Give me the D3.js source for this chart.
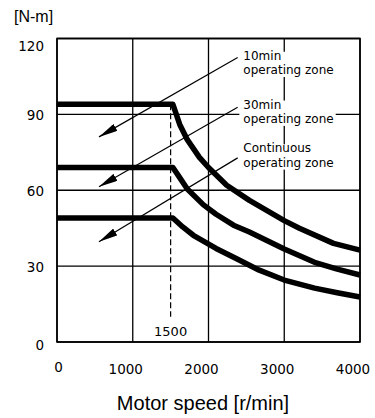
<!DOCTYPE html>
<meta charset='utf-8'>
<style>
  body { margin: 0; background: #fff; }
  svg { display: block; }
</style>
<body>
<script src='https://cdnjs.cloudflare.com/ajax/libs/d3/7.8.5/d3.min.js'></script>
<script>

    // tick values
    var speedTicks = [0, 1000, 2000, 3000, 4000];
    var torqueTicks = [0, 30, 60, 90, 120];

    // torque curves
    var speed10 = [0, 1530, 1620, 1720, 1880, 2000, 2240, 2540, 3000, 3200, 3650, 4000];
    var torque10 = [94, 94, 86, 80, 73, 69, 62, 56, 48, 45, 39, 36.3];

    var speed30 = [0, 1530, 1620, 1720, 1930, 2100, 2330, 2540, 3000, 3400, 3700, 4000];
    var torque30 = [69, 69, 65, 60.5, 54.3, 50.5, 46.2, 43.5, 36.8, 31.5, 28.8, 26.5];

    var speedCont = [0, 1530, 1660, 1800, 2100, 2365, 2670, 3000, 3400, 3700, 4000];
    var torqueCont = [49, 49, 45.5, 42.2, 37, 33, 28.4, 24.5, 21.3, 19.5, 17.8];

    // annotations: label lines, label anchor and arrow (speed, torque)
    var zoneLabels = [['10min', 'operating zone'], ['30min', 'operating zone'], ['Continuous', 'operating zone']];
    var labelSpeed = [2460, 2460, 2460];
    var labelTorque = [111.6, 92.3, 75];
    var arrowFrom = [[2385, 112.5], [2385, 92.8], [2385, 72.8]];
    var arrowTo = [[554, 81.1], [554, 61.4], [554, 39.6]];
    var baseSpeed = 1500;

    var width = 375, height = 418;

    var svg = d3.select('body').append('svg')
        .attr('width', width)
        .attr('height', height);

    var x = d3.scaleLinear().domain([0, 4000]).range([57, 360]);
    var y = d3.scaleLinear().domain([0, 120]).range([342, 38.5]);

    var defs = svg.append('defs');
    defs.append('marker')
        .attr('id', 'head')
        .attr('markerUnits', 'userSpaceOnUse')
        .attr('viewBox', '0 0 19 8')
        .attr('refX', 19)
        .attr('refY', 4)
        .attr('markerWidth', 19)
        .attr('markerHeight', 8)
        .attr('orient', 'auto')
        .append('path')
        .attr('d', 'M0,0 L19,4 L0,8 Z')
        .attr('fill', '#000');

    // grid
    var grid = svg.append('g');
    grid.selectAll('.vg')
        .data(speedTicks)
        .enter()
        .append('line')
        .attr('x1', function(d){ return x(d); })
        .attr('x2', function(d){ return x(d); })
        .attr('y1', y(0))
        .attr('y2', y(120))
        .attr('stroke', '#000')
        .attr('stroke-width', 1.3);

    grid.selectAll('.hg')
        .data(torqueTicks)
        .enter()
        .append('line')
        .attr('x1', x(0))
        .attr('x2', x(4000))
        .attr('y1', function(d){ return y(d); })
        .attr('y2', function(d){ return y(d); })
        .attr('stroke', '#000')
        .attr('stroke-width', 1.3);

    // 1500 dashed marker
    svg.append('line')
        .attr('x1', x(baseSpeed))
        .attr('x2', x(baseSpeed))
        .attr('y1', y(torque10[0]))
        .attr('y2', y(10))
        .attr('stroke', '#000')
        .attr('stroke-width', 1.2)
        .attr('stroke-dasharray', '6,3');

    svg.append('text')
        .attr('x', x(baseSpeed))
        .attr('y', y(2.2))
        .attr('text-anchor', 'middle')
        .style('font-family', 'DejaVu Sans')
        .style('font-size', '13px')
        .text(baseSpeed);

    // arrows
    svg.selectAll('.arrow')
        .data(arrowFrom)
        .enter()
        .append('line')
        .attr('x1', function(d){ return x(d[0]); })
        .attr('y1', function(d){ return y(d[1]); })
        .attr('x2', function(d, i){ return x(arrowTo[i][0]); })
        .attr('y2', function(d, i){ return y(arrowTo[i][1]); })
        .attr('stroke', '#000')
        .attr('stroke-width', 1.2)
        .attr('marker-end', 'url(#head)');

    // zone labels with white background
    zoneLabels.forEach(function(lines, i){
        var g = svg.append('g');
        var bg = g.append('rect').attr('fill', '#fff');
        var t = g.append('text')
            .style('font-family', 'DejaVu Sans')
            .style('font-size', '12px');
        lines.forEach(function(s, j){
            t.append('tspan')
                .attr('x', x(labelSpeed[i]))
                .attr('y', y(labelTorque[i]) + j * 14.3)
                .text(s);
        });
        var b = t.node().getBBox();
        bg.attr('x', b.x - 4).attr('y', b.y + 3)
          .attr('width', b.width + 6).attr('height', b.height - 3);
    });

    // curves
    var line = d3.line()
        .x(function(d){ return x(d[0]); })
        .y(function(d){ return y(d[1]); });

    [[speed10, torque10], [speed30, torque30], [speedCont, torqueCont]].forEach(function(s){
        svg.append('path')
            .datum(d3.zip(s[0], s[1]))
            .attr('d', line)
            .attr('fill', 'none')
            .attr('stroke', '#000')
            .attr('stroke-width', 5.5)
            .attr('stroke-linejoin', 'round');
    });

    // frame
    svg.append('rect')
        .attr('x', x(0))
        .attr('y', y(120))
        .attr('width', x(4000) - x(0))
        .attr('height', y(0) - y(120))
        .attr('fill', 'none')
        .attr('stroke', '#000')
        .attr('stroke-width', 1.6);

    // tick labels
    svg.selectAll('.xl')
        .data(speedTicks)
        .enter()
        .append('text')
        .attr('x', function(d){ return x(d) + (d === 0 ? 1.5 : -7); })
        .attr('y', function(d){ return d === 0 ? 371.5 : 373.5; })
        .attr('text-anchor', 'middle')
        .style('font-family', 'DejaVu Sans')
        .style('font-size', '13.5px')
        .text(function(d){ return d; });

    svg.selectAll('.yl')
        .data(torqueTicks)
        .enter()
        .append('text')
        .attr('x', x(0) - 13)
        .attr('y', function(d){ return y(d) + (d === 120 ? 12 : 6) + (d === 0 ? 2 : 0); })
        .attr('text-anchor', 'end')
        .style('font-family', 'DejaVu Sans')
        .style('font-size', '13.5px')
        .text(function(d){ return d; });

    svg.append('text')
        .attr('x', 14)
        .attr('y', 21.5)
        .style('font-family', 'Liberation Sans')
        .style('font-size', '16px')
        .text('[N-m]');

    svg.append('text')
        .attr('x', 203)
        .attr('y', 410)
        .attr('text-anchor', 'middle')
        .style('font-family', 'Liberation Sans')
        .style('font-size', '20px')
        .text('Motor speed [r/min]');

</script>
</body>
